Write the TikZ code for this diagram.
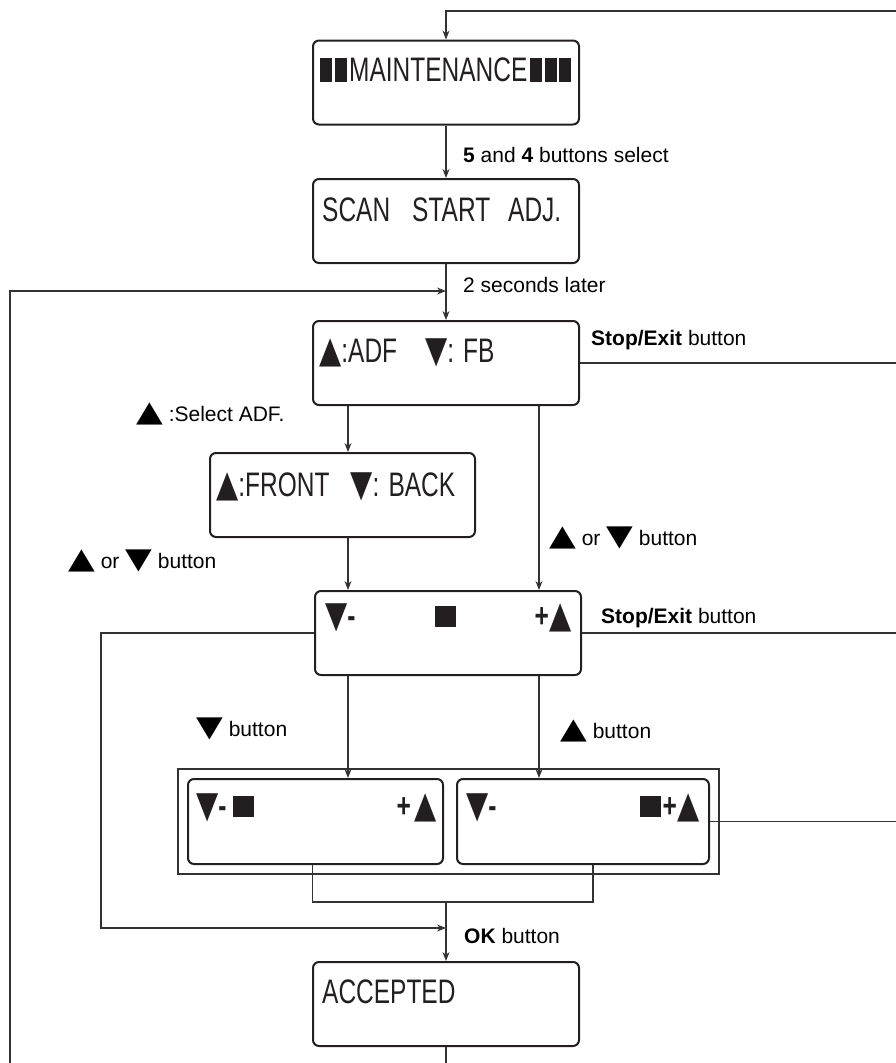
\documentclass[tikz,border=0pt]{standalone}
\usepackage{fontspec}
\setmainfont{Liberation Sans}
\newfontfamily\lcdfont[FakeStretch=0.72]{Liberation Sans}
\newfontfamily\lcdsymfont[FakeStretch=0.78]{DejaVu Sans}
\newfontfamily\labsymfont[FakeStretch=1.2]{DejaVu Sans}
\usetikzlibrary{arrows.meta,positioning,fit}
\definecolor{wireGray}{HTML}{333333}
\definecolor{boxBlack}{HTML}{231F20}

% display glyphs
\newcommand\lup{{\lcdsymfont\fontsize{37}{37}\selectfont ▲}}
\newcommand\ldn{{\lcdsymfont\fontsize{37}{37}\selectfont ▼}}
\newcommand\bup{{\labsymfont\fontsize{29}{29}\selectfont ▲}}
\newcommand\bdn{{\labsymfont\fontsize{29}{29}\selectfont ▼}}
\newcommand\blk{\rule{12pt}{24pt}\kern2.5pt}
\newcommand\sqr{\rule{21pt}{21pt}}

\begin{document}
\begin{tikzpicture}[x=1pt, y=-1pt, >={Stealth[length=9pt,width=7pt]},
    lcdbox/.style={draw=boxBlack, line width=2pt, rounded corners=6pt,
        minimum width=266pt, minimum height=84pt, inner sep=0pt},
    lcdtxt/.style={anchor=base west, inner sep=0pt, text=boxBlack,
        font=\lcdfont\fontsize{34}{34}\selectfont},
    lbl/.style={inner sep=0pt, anchor=west, font=\fontsize{21}{25}\selectfont},
    wire/.style={draw=wireGray, line width=1.1pt},
    conn/.style={wire, ->}]

    \useasboundingbox (0,0) rectangle (896,1063);

    % display boxes
    \node[lcdbox] (maint) at (446,82.5) {};
    \node[lcdbox] (scan) at (446,221) {};
    \node[lcdbox] (adf) at (446,363) {};
    \node[lcdbox, minimum width=265pt] (front) at (342.5,495) {};
    \node[lcdbox] (adj) at (448,633) {};
    \node[lcdbox, minimum width=255pt, minimum height=85pt] (lbox) at (315.5,821.5) {};
    \node[lcdbox, minimum width=252pt, minimum height=85pt] (rbox) at (583,821.5) {};
    \node[lcdbox] (acc) at (446,1004) {};
    \node[draw=wireGray, line width=1.1pt, fit=(lbox)(rbox), inner sep=9pt] (grp) {};

    % display texts
    \node[lcdtxt] (maint-t) at ([shift={(8,42)}]maint.north west)
        {\blk\blk MAINTENANCE\kern3pt\blk\blk\blk};
    \node[lcdtxt] (scan-t) at ([shift={(10,43)}]scan.north west)
        {SCAN\hspace{22pt}START\hspace{18pt}ADJ.};
    \node[lcdtxt] (adf-t) at ([shift={(7,42)}]adf.north west)
        {\lup:ADF\hspace{28pt}\ldn: FB};
    \node[lcdtxt] (front-t) at ([shift={(7,44)}]front.north west)
        {\lup:FRONT\hspace{21pt}\ldn: BACK};
    \node[lcdtxt] (adj-t) at ([shift={(11,37)}]adj.north west)
        {\hbox to 246pt{\ldn\textbf{-}\hfill\sqr\hfill\textbf{+}\lup}};
    \node[lcdtxt] (lbox-t) at ([shift={(9,39)}]lbox.north west)
        {\hbox to 240pt{\ldn\textbf{-}\kern6pt\sqr\hfill\textbf{+}\kern3pt\lup}};
    \node[lcdtxt] (rbox-t) at ([shift={(10,39)}]rbox.north west)
        {\hbox to 233pt{\ldn\textbf{-}\hfill\sqr\kern2pt\textbf{+}\lup}};
    \node[lcdtxt] (acc-t) at ([shift={(10,42)}]acc.north west) {ACCEPTED};

    % free ends at the picture edges
    \coordinate (topR) at (896,11);
    \coordinate (edgeR) at (896,0);
    \coordinate (edgeL) at (10,1063);
    \coordinate (edgeB) at (446,1063);
    \coordinate (j1) at (446,291);
    \coordinate (jm) at (446,902);
    \coordinate (j3) at (446,928);
    \coordinate (c2) at (101,928);
    \coordinate (bl) at (348,0);
    \coordinate (br) at (539,0);

    % main column
    \draw[conn] (topR) -| (maint.north);
    \draw[conn] (maint) -- (scan);
    \draw[conn] (scan) -- (adf);
    \draw[conn] (edgeL) |- (j1);
    \draw[conn] (adf.south -| bl) -- (front.north -| bl);
    \draw[conn] (adf.south -| br) -- (adj.north -| br);
    \draw[conn] (front.south -| bl) -- (adj.north -| bl);
    \draw[conn] (adj.south -| bl) -- (lbox.north -| bl);
    \draw[conn] (adj.south -| br) -- (rbox.north -| br);
    \draw[wire] ([xshift=-3pt]lbox.south) |- (jm) -| ([xshift=10pt]rbox.south);
    \draw[conn] (adj.west) -| (c2) -- (j3);
    \draw[conn] (jm) -- (acc.north);
    \draw[wire] (acc) -- (edgeB);

    % exits to the right
    \draw[wire] (adf.east) -- (adf.east -| edgeR);
    \draw[wire] (adj.east) -- (adj.east -| edgeR);
    \draw[wire] (rbox.east) -- (rbox.east -| edgeR);

    % labels
    \node[lbl] (sel) at (463,155) {\textbf{5} and \textbf{4} buttons select};
    \node[lbl] (later) at (463,285) {2 seconds later};
    \node[lbl] (stop1) at (591,340) {\textbf{Stop/Exit} button};
    \node[lbl] (selAdf) at (136,414) {\bup\ :Select ADF.};
    \node[lbl] (updnL) at (68,561) {\bup\ or \bdn\ button};
    \node[lbl] (updnR) at (549,538) {\bup\ or \bdn\ button};
    \node[lbl] (stop2) at (601,618) {\textbf{Stop/Exit} button};
    \node[lbl] (dnBtn) at (196,729) {\bdn\ button};
    \node[lbl] (upBtn) at (560,731) {\bup\ button};
    \node[lbl] (okBtn) at (464,936) {\textbf{OK} button};

\end{tikzpicture}
\end{document}
